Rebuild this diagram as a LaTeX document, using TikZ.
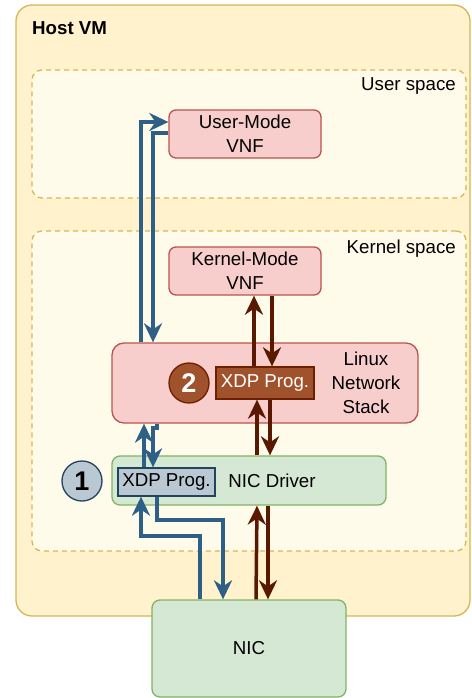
\documentclass[tikz,border=0pt]{standalone}
\usepackage{fontspec}
\setmainfont{Liberation Sans}
\usetikzlibrary{arrows.meta}
\definecolor{hostfill}{HTML}{FFF2CC}
\definecolor{hoststroke}{HTML}{D6B656}
\definecolor{spacefill}{HTML}{FFFBEA}
\definecolor{redfill}{HTML}{F8CECC}
\definecolor{redstroke}{HTML}{B85450}
\definecolor{greenfill}{HTML}{D5E8D4}
\definecolor{greenstroke}{HTML}{82B366}
\definecolor{bluefill}{HTML}{BAC8D3}
\definecolor{bluestroke}{HTML}{23445D}
\definecolor{sienna}{HTML}{A0522D}
\definecolor{siennastroke}{HTML}{6D1F00}
\definecolor{bluearr}{HTML}{2E5F87}
\definecolor{brownarr}{HTML}{5A1800}
\tikzset{
  txt/.style={font=\fontsize{18.7}{24}\selectfont},
  box/.style={txt, draw, line width=1.3pt, inner sep=0pt, align=center},
  hostbox/.style={box, fill=hostfill, draw=hoststroke, rounded corners=16pt},
  spacebox/.style={box, fill=spacefill, draw=hoststroke, dashed, dash pattern=on 5pt off 4pt, rounded corners=10pt},
  redbox/.style={box, fill=redfill, draw=redstroke, rounded corners=7pt},
  greenbox/.style={box, fill=greenfill, draw=greenstroke, rounded corners=8pt},
  xdpone/.style={box, fill=bluefill, draw=bluestroke},
  xdptwo/.style={box, fill=sienna, draw=siennastroke, text=white},
  numone/.style={circle, draw=bluestroke, fill=bluefill, line width=1.3pt, minimum size=40pt, inner sep=0pt, font=\fontsize{27}{30}\selectfont\bfseries},
  numtwo/.style={circle, draw=siennastroke, fill=sienna, text=white, line width=1.3pt, minimum size=40pt, inner sep=0pt, font=\fontsize{27}{30}\selectfont\bfseries},
  bluearrow/.style={draw=bluearr, line width=3.5pt, -{Stealth[length=19pt, width=18pt, inset=6pt]}},
  brownarrow/.style={draw=brownarr, line width=3.5pt, -{Stealth[length=19pt, width=18pt, inset=6pt]}},
}
\begin{document}
\begin{tikzpicture}[x=1pt, y=-1pt]
\useasboundingbox (0,0) rectangle (471,698);
\fill[white] (0,0) rectangle (471,698);
% containers
\node[hostbox, minimum width=454pt, minimum height=611pt] (host) at (243,310.5) {};
\node[txt, font=\fontsize{18.7}{24}\selectfont\bfseries, anchor=west, inner sep=0pt] (hostlbl) at (32,28) {Host VM};
\node[spacebox, minimum width=434pt, minimum height=128pt] (user) at (249,134) {};
\node[txt, anchor=east, inner sep=0pt] (userlbl) at (456,86) {User space};
\node[spacebox, minimum width=434pt, minimum height=320pt] (kernel) at (249,391) {};
\node[txt, anchor=east, inner sep=0pt] (kernellbl) at (456,249) {Kernel space};
% boxes
\node[redbox, minimum width=152pt, minimum height=48pt] (umvnf) at (245,134) {User-Mode\\VNF};
\node[redbox, minimum width=152pt, minimum height=48pt] (kmvnf) at (245,271) {Kernel-Mode\\VNF};
\node[redbox, rounded corners=12pt, minimum width=306pt, minimum height=80pt] (lns) at (265,383) {};
\node[txt, align=center, inner sep=0pt] (lnslbl) at (366,383) {Linux\\Network\\Stack};
\node[xdptwo, minimum width=98pt, minimum height=32pt] (xdp2) at (265,383) {XDP Prog.};
\node[numtwo] (c2) at (189,383) {2};
\node[greenbox, minimum width=274pt, minimum height=49pt] (drv) at (249,480.5) {};
\node[txt, inner sep=0pt] (drvlbl) at (272,481) {NIC Driver};
\node[xdpone, minimum width=97pt, minimum height=28pt] (xdp1) at (166.5,482) {XDP Prog.};
\node[numone] (c1) at (82,481) {1};
\node[greenbox, minimum width=194pt, minimum height=97pt] (nic) at (249,648.5) {NIC};
% blue connectors (XDP 1 / user-mode path)
\draw[bluearrow] (lns.north -| 141,0) -- (141,122) -- (umvnf.west |- 0,122);
\draw[bluearrow] (umvnf.west |- 0,133) -- (153,133) -- (lns.north -| 153,0);
\draw[bluearrow] (xdp1.north -| 144,0) -- (lns.south -| 144,0);
\draw[bluearrow] (lns.south -| 157,0) -- (157,428) -- (153,428) -- (xdp1.north -| 153,0);
\draw[bluearrow] (nic.north -| 200,0) -- (200,536) -- (141,536) -- (xdp1.south -| 141,0);
\draw[bluearrow] (xdp1.south -| 157,0) -- (157,520) -- (223,520) -- (nic.north -| 223,0);
% brown connectors (XDP 2 / kernel path)
\draw[brownarrow] (nic.north -| 256,0) -- (drv.south -| 257,0);
\draw[brownarrow] (drv.south -| 268,0) -- (nic.north -| 268,0);
\draw[brownarrow] (drv.north -| 257,0) -- (xdp2.south -| 257,0);
\draw[brownarrow] (xdp2.south -| 270,0) -- (drv.north -| 270,0);
\draw[brownarrow] (xdp2.north -| 254,0) -- (kmvnf.south -| 254,0);
\draw[brownarrow] (kmvnf.south -| 272,0) -- (xdp2.north -| 272,0);
\end{tikzpicture}
\end{document}
